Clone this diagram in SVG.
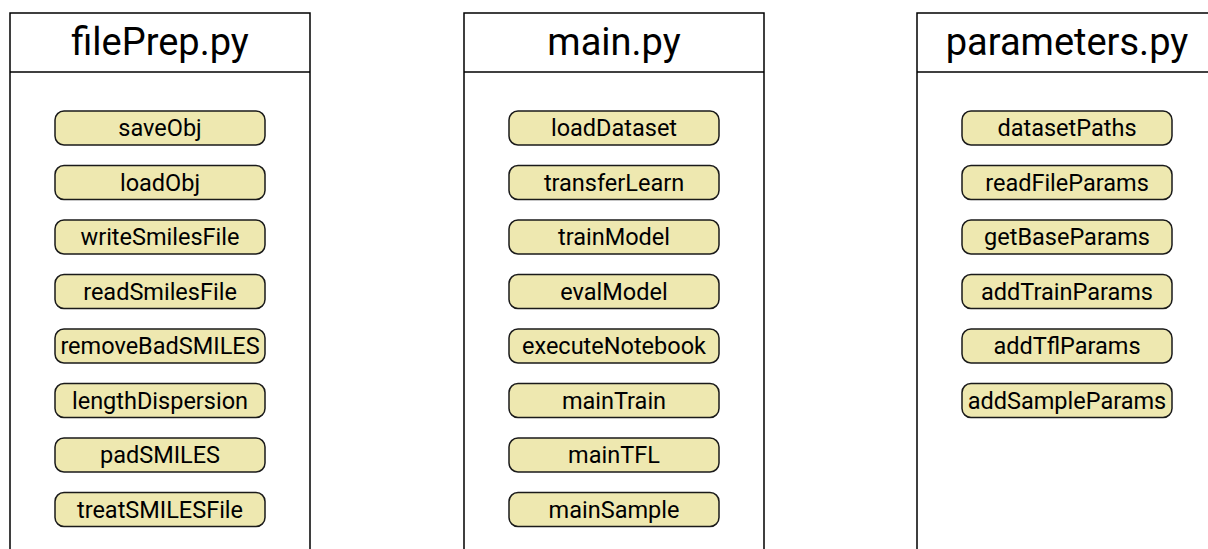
<svg xmlns="http://www.w3.org/2000/svg" width="1208" height="549" viewBox="0 0 1208 549">
  <style>
    .box { fill: #ffffff; stroke: #000000; stroke-width: 1.5; }
    .sep { stroke: #000000; stroke-width: 1.5; }
    .title { font-family: Roboto, "Liberation Sans", sans-serif; font-size: 38px; fill: #000000; text-anchor: middle; dominant-baseline: central; }
    .fn rect { fill: #eee8b0; stroke: #1a1a1a; stroke-width: 1.5; }
    .fn text { font-family: Roboto, "Liberation Sans", sans-serif; font-size: 23.5px; fill: #000000; text-anchor: middle; dominant-baseline: central; }
  </style>

  <!-- module: filePrep.py -->
  <g id="filePrep">
    <path class="box" d="M10,549 V13 H310 V549"/>
    <line class="sep" x1="10" y1="72" x2="310" y2="72"/>
    <text class="title" x="160" y="42">filePrep.py</text>
    <g id="saveObj" class="fn"><rect x="55" y="111" width="210" height="34" rx="9"/><text x="160" y="128">saveObj</text></g>
    <g id="loadObj" class="fn"><rect x="55" y="165.5" width="210" height="34" rx="9"/><text x="160" y="182.5">loadObj</text></g>
    <g id="writeSmilesFile" class="fn"><rect x="55" y="220" width="210" height="34" rx="9"/><text x="160" y="237">writeSmilesFile</text></g>
    <g id="readSmilesFile" class="fn"><rect x="55" y="274.5" width="210" height="34" rx="9"/><text x="160" y="291.5">readSmilesFile</text></g>
    <g id="removeBadSMILES" class="fn"><rect x="55" y="329" width="210" height="34" rx="9"/><text x="160" y="346">removeBadSMILES</text></g>
    <g id="lengthDispersion" class="fn"><rect x="55" y="383.5" width="210" height="34" rx="9"/><text x="160" y="400.5">lengthDispersion</text></g>
    <g id="padSMILES" class="fn"><rect x="55" y="438" width="210" height="34" rx="9"/><text x="160" y="455">padSMILES</text></g>
    <g id="treatSMILESFile" class="fn"><rect x="55" y="492.5" width="210" height="34" rx="9"/><text x="160" y="509.5">treatSMILESFile</text></g>
  </g>

  <!-- module: main.py -->
  <g id="main">
    <path class="box" d="M464,549 V13 H764 V549"/>
    <line class="sep" x1="464" y1="72" x2="764" y2="72"/>
    <text class="title" x="614" y="42">main.py</text>
    <g id="loadDataset" class="fn"><rect x="509" y="111" width="210" height="34" rx="9"/><text x="614" y="128">loadDataset</text></g>
    <g id="transferLearn" class="fn"><rect x="509" y="165.5" width="210" height="34" rx="9"/><text x="614" y="182.5">transferLearn</text></g>
    <g id="trainModel" class="fn"><rect x="509" y="220" width="210" height="34" rx="9"/><text x="614" y="237">trainModel</text></g>
    <g id="evalModel" class="fn"><rect x="509" y="274.5" width="210" height="34" rx="9"/><text x="614" y="291.5">evalModel</text></g>
    <g id="executeNotebook" class="fn"><rect x="509" y="329" width="210" height="34" rx="9"/><text x="614" y="346">executeNotebook</text></g>
    <g id="mainTrain" class="fn"><rect x="509" y="383.5" width="210" height="34" rx="9"/><text x="614" y="400.5">mainTrain</text></g>
    <g id="mainTFL" class="fn"><rect x="509" y="438" width="210" height="34" rx="9"/><text x="614" y="455">mainTFL</text></g>
    <g id="mainSample" class="fn"><rect x="509" y="492.5" width="210" height="34" rx="9"/><text x="614" y="509.5">mainSample</text></g>
  </g>

  <!-- module: parameters.py -->
  <g id="parameters">
    <path class="box" d="M917,549 V13 H1217 V549"/>
    <line class="sep" x1="917" y1="72" x2="1217" y2="72"/>
    <text class="title" x="1067" y="42">parameters.py</text>
    <g id="datasetPaths" class="fn"><rect x="962" y="111" width="210" height="34" rx="9"/><text x="1067" y="128">datasetPaths</text></g>
    <g id="readFileParams" class="fn"><rect x="962" y="165.5" width="210" height="34" rx="9"/><text x="1067" y="182.5">readFileParams</text></g>
    <g id="getBaseParams" class="fn"><rect x="962" y="220" width="210" height="34" rx="9"/><text x="1067" y="237">getBaseParams</text></g>
    <g id="addTrainParams" class="fn"><rect x="962" y="274.5" width="210" height="34" rx="9"/><text x="1067" y="291.5">addTrainParams</text></g>
    <g id="addTflParams" class="fn"><rect x="962" y="329" width="210" height="34" rx="9"/><text x="1067" y="346">addTflParams</text></g>
    <g id="addSampleParams" class="fn"><rect x="962" y="383.5" width="210" height="34" rx="9"/><text x="1067" y="400.5">addSampleParams</text></g>
  </g>

  <!-- no connectors between modules -->
  <g id="connectors"/>
</svg>
